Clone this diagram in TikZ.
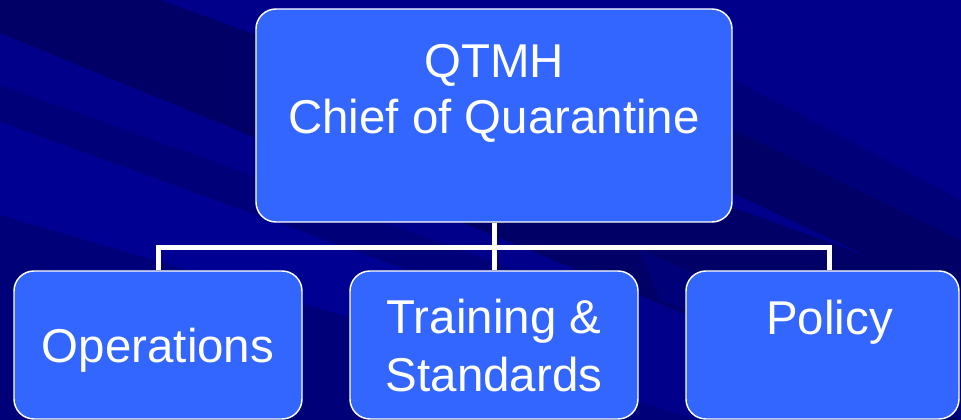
\documentclass[tikz,border=0pt]{standalone}
\usepackage{fontspec}
\setmainfont{Liberation Sans}
\usetikzlibrary{calc}
\definecolor{navybg}{RGB}{0,0,138}
\definecolor{navydark}{RGB}{0,0,102}
\definecolor{navymid}{RGB}{0,0,120}
\definecolor{navylight}{RGB}{0,0,146}
\definecolor{boxblue}{RGB}{51,102,255}
\tikzset{
	box/.style={draw=white, line width=1.1pt, fill=boxblue, rounded corners=15pt, inner sep=0pt},
	lbl/.style={text=white, anchor=base, align=center, inner sep=0pt, font=\fontsize{35.6}{43.5}\selectfont},
	wire/.style={draw=white, line width=3.75pt},
}

\begin{document}
\begin{tikzpicture}[x=0.75pt, y=-0.75pt]
			%%%%% START %%%%%
			
			\useasboundingbox (0, 0) rectangle (961, 420);
			\clip (0, 0) rectangle (961, 420);
			
			% background with streaks
			\fill[navybg] (0, 0) rectangle (961, 420);
			\fill[navymid] (0, 85) -- (600, 300) -- (600, 340) -- (0, 122) -- cycle;
			\fill[navylight] (0, 122) -- (600, 340) -- (600, 400) -- (0, 215) -- cycle;
			\fill[navymid] (0, 215) -- (700, 420) -- (0, 420) -- cycle;
			\fill[navydark] (0, 0) -- (160, 0) -- (961, 290) -- (961, 427) -- (0, 33) -- cycle;
			\fill[navymid] (720, 72) -- (961, 200) -- (961, 240) -- (720, 123) -- cycle;
			\fill[navydark] (720, 123) -- (961, 240) -- (961, 300) -- (720, 187) -- cycle;
			\fill[navymid] (640, 250) -- (961, 390) -- (961, 420) -- (660, 300) -- cycle;
			
			% boxes
			\node[box, minimum width=357pt, minimum height=159.75pt] (chief) at (494, 115.5) {};
			\node[box, minimum width=216pt, minimum height=111pt] (ops) at (158, 345) {};
			\node[box, minimum width=216pt, minimum height=111pt] (train) at (494, 345) {};
			\node[box, minimum width=204.75pt, minimum height=111pt] (policy) at (822.5, 345) {};
			
			% labels (base = last line)
			\node[lbl, font=\fontsize{35.6}{42}\selectfont] (chieftxt) at (494, 134) {QTMH\\Chief of Quarantine};
			\node[lbl] (opstxt) at (158, 363) {Operations};
			\node[lbl] (traintxt) at (494, 392) {Training \&\\Standards};
			\node[lbl] (policytxt) at (829.5, 335) {Policy};
			
			% connectors
			\coordinate (bus) at (494, 247.5);
			\draw[wire] (chief.south) -- (train.north);
			\draw[wire] (ops.north) |- (bus) -| ($(policy.north)+(7, 0)$);
			
			%%%%% END %%%%%
		\end{tikzpicture}
\end{document}
